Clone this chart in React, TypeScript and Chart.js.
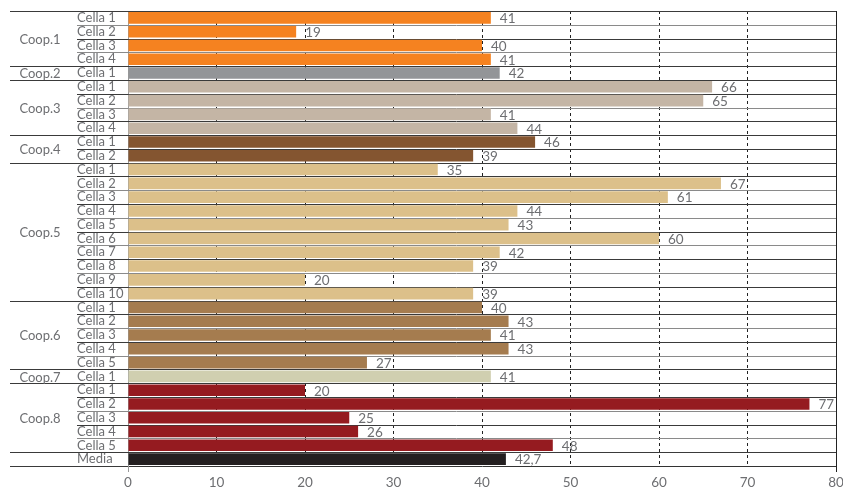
import React, { useEffect, useRef } from "react";
import { Chart, registerables } from "chart.js";

Chart.register(...registerables);

const groupNames = ["Coop.1", "Coop.2", "Coop.3", "Coop.4", "Coop.5", "Coop.6", "Coop.7", "Coop.8", ""];
const coop1 = [41, 19, 40, 41];
const coop2 = [42];
const coop3 = [66, 65, 41, 44];
const coop4 = [46, 39];
const coop5 = [35, 67, 61, 44, 43, 60, 42, 39, 20, 39];
const coop6 = [40, 43, 41, 43, 27];
const coop7 = [41];
const coop8 = [20, 77, 25, 26, 48];
const media = [42.7];
const groupValues = [coop1, coop2, coop3, coop4, coop5, coop6, coop7, coop8, media];
const groupColors = ["#f58220", "#939598", "#c4b5a5", "#845530", "#dcc08a", "#a57c4f", "#d0cfb0", "#951b20", "#231f20"];
const xTicks = [0, 10, 20, 30, 40, 50, 60, 70, 80];

const labels: string[] = [];
const values: number[] = [];
const colors: string[] = [];
const groupStart: number[] = [];
groupValues.forEach((arr, g) => {
  groupStart.push(labels.length);
  arr.forEach((v, i) => {
    labels.push(g === groupValues.length - 1 ? "Media" : "Cella " + (i + 1));
    values.push(v);
    colors.push(groupColors[g]);
  });
});

const FONT = "Lato, 'Open Sans', sans-serif";
const TEXT = "#6d6e71";

export default function App() {
  const ref = useRef<HTMLCanvasElement | null>(null);
  useEffect(() => {
    if (!ref.current) return;
    const deco = {
      id: "deco",
      beforeDatasetsDraw(chart: any) {
        const { ctx, chartArea, scales } = chart;
        const y = scales.y;
        const x = scales.x;
        const n = labels.length;
        const step = n > 1 ? y.getPixelForValue(1) - y.getPixelForValue(0) : 13;
        ctx.save();
        ctx.lineWidth = 1;
        for (let i = 0; i <= n; i++) {
          const py = Math.round(y.getPixelForValue(i) - step / 2) + 0.5;
          const isGroup = groupStart.includes(i) || i === n;
          ctx.strokeStyle = i % 2 === 0 ? "#3a3a3a" : "#8a8a8a";
          if (isGroup) ctx.strokeStyle = "#3a3a3a";
          ctx.beginPath();
          ctx.moveTo(isGroup ? 10 : y.left, py);
          ctx.lineTo(i === n ? chartArea.left : chartArea.right, py);
          ctx.stroke();
        }
        const rx = Math.round(x.getPixelForValue(80)) + 0.5;
        ctx.strokeStyle = "#222";
        ctx.beginPath();
        ctx.moveTo(rx, chartArea.top);
        ctx.lineTo(rx, chartArea.bottom + 6);
        ctx.stroke();
        const lx = Math.round(x.getPixelForValue(0)) + 0.5;
        ctx.strokeStyle = "#999";
        ctx.beginPath();
        ctx.moveTo(lx, chartArea.bottom);
        ctx.lineTo(lx, chartArea.bottom + 6);
        ctx.stroke();
        ctx.restore();
      },
      afterDatasetsDraw(chart: any) {
        const { ctx, scales } = chart;
        const y = scales.y;
        const meta = chart.getDatasetMeta(0);
        ctx.save();
        ctx.font = "13.5px " + FONT;
        ctx.fillStyle = TEXT;
        ctx.textBaseline = "middle";
        ctx.textAlign = "left";
        meta.data.forEach((bar: any, i: number) => {
          ctx.fillText(String(values[i]).replace(".", ","), bar.x + 9, bar.y + 1);
        });
        ctx.font = "13px " + FONT;
        ctx.textAlign = "center";
        groupNames.forEach((name, g) => {
          if (!name) return;
          const s = groupStart[g];
          const e = s + groupValues[g].length - 1;
          const cy = (y.getPixelForValue(s) + y.getPixelForValue(e)) / 2;
          ctx.fillText(name, 40, cy + 1);
        });
        ctx.restore();
      },
    };
    const chart = new Chart(ref.current, {
      type: "bar",
      data: {
        labels,
        datasets: [
          {
            data: values,
            backgroundColor: colors,
            barPercentage: 0.84,
            categoryPercentage: 1,
          },
        ],
      },
      options: {
        indexAxis: "y",
        animation: false,
        responsive: true,
        maintainAspectRatio: false,
        layout: { padding: { left: 77, top: 11, right: 7, bottom: 0 } },
        plugins: { legend: { display: false }, tooltip: { enabled: false } },
        scales: {
          x: {
            min: 0,
            max: 80,
            afterBuildTicks: (s: any) => {
              s.ticks = xTicks.map((v) => ({ value: v }));
            },
            afterFit: (s: any) => {
              s.height = 21;
              s.paddingRight = 0;
              s.paddingLeft = 0;
            },
            grid: {
              drawTicks: false,
              color: (c: any) => (c.index === 0 || c.index === 8 ? "rgba(0,0,0,0)" : "#222"),
              lineWidth: 1,
            },
            border: { display: true, color: "#333", dash: [3, 3] },
            ticks: { color: TEXT, font: { size: 13.5, family: FONT }, padding: 9 },
          },
          y: {
            afterFit: (s: any) => {
              s.width = 51;
            },
            grid: { display: false, drawTicks: false },
            border: { display: true, color: "#999" },
            ticks: {
              crossAlign: "far",
              color: TEXT,
              autoSkip: false,
              font: { size: 13, family: FONT },
              padding: 0,
            },
          },
        },
      },
      plugins: [deco],
    } as any);
    return () => chart.destroy();
  }, []);
  return (
    <div style={{ position: "absolute", left: 0, top: 0, width: 843, height: 487 }}>
      <canvas ref={ref} />
    </div>
  );
}
